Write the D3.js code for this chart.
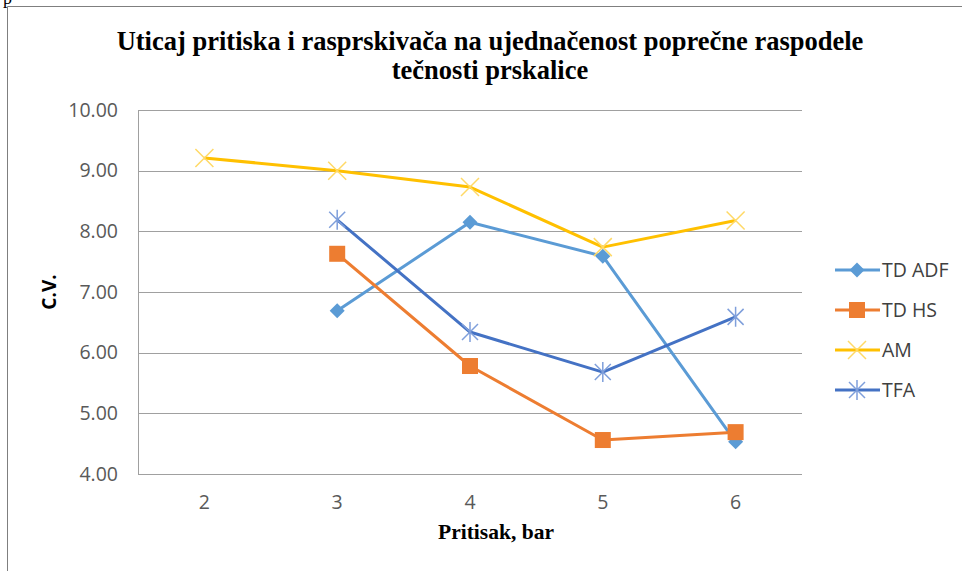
<!DOCTYPE html>
<html>
<head>
<meta charset="utf-8">
<script src="https://cdn.jsdelivr.net/npm/d3@7"></script>
<style>
  body { margin: 0; background: #fff; }
  svg { display: block; }
</style>
</head>
<body>
<svg id="chart"></svg>
<script>
const pressures = ["2", "3", "4", "5", "6"];
const yTicks = [4, 5, 6, 7, 8, 9, 10];

const tdAdf = [null, 6.69, 8.15, 7.59, 4.53];
const tdHs = [null, 7.63, 5.78, 4.56, 4.69];
const am = [9.21, 9.00, 8.73, 7.74, 8.18];
const tfa = [null, 8.19, 6.34, 5.68, 6.59];

const series = [
  {name: "TD ADF", values: tdAdf, color: "#5B9BD5", marker: "diamond"},
  {name: "TD HS", values: tdHs, color: "#ED7D31", marker: "square"},
  {name: "AM", values: am, color: "#FFC000", marker: "cross"},
  {name: "TFA", values: tfa, color: "#4472C4", marker: "star"}
];

const svg_size = {width: 962, height: 571};
const plot_margin = {top: 110, right: 160, bottom: 97, left: 138};
const plot_width = svg_size.width - plot_margin.left - plot_margin.right;
const plot_height = svg_size.height - plot_margin.top - plot_margin.bottom;
const tick_font = 19.5;

const svg = d3.select("#chart")
  .attr("width", svg_size.width)
  .attr("height", svg_size.height);

// page frame and the cut-off line of the document above
svg.append("text")
  .attr("x", 3).attr("y", 4)
  .attr("font-family", "Liberation Serif")
  .attr("font-size", 18)
  .attr("fill", "#000")
  .text("p");
svg.append("path")
  .attr("d", "M7.5,571V6.5H962")
  .attr("fill", "none")
  .attr("stroke", "#7f7f7f")
  .attr("stroke-width", 1);

const plot = svg.append("g")
  .attr("transform", `translate(${plot_margin.left},${plot_margin.top})`);

const x = d3.scalePoint().domain(pressures).range([0, plot_width]).padding(0.5);
const y = d3.scaleLinear().domain([4, 10]).range([plot_height, 0]);

// gridlines
plot.append("g")
  .selectAll("line")
  .data(yTicks)
  .join("line")
  .attr("x1", 0).attr("x2", plot_width)
  .attr("y1", d => Math.round(y(d)) + 0.5)
  .attr("y2", d => Math.round(y(d)) + 0.5)
  .attr("stroke", "#a0a0a0")
  .attr("stroke-width", 1);

plot.append("line")
  .attr("x1", 0.5).attr("x2", 0.5)
  .attr("y1", 0).attr("y2", plot_height)
  .attr("stroke", "#a0a0a0");

// y tick labels
plot.append("g")
  .selectAll("text")
  .data(yTicks)
  .join("text")
  .attr("x", -20)
  .attr("y", d => y(d))
  .attr("dy", "0.35em")
  .attr("text-anchor", "end")
  .attr("font-family", "Open Sans, sans-serif")
  .attr("font-size", tick_font)
  .attr("fill", "#595959")
  .text(d => d.toFixed(2));

// x tick labels
plot.append("g")
  .selectAll("text")
  .data(pressures)
  .join("text")
  .attr("x", d => x(d))
  .attr("y", plot_height + 35)
  .attr("text-anchor", "middle")
  .attr("font-family", "Open Sans, sans-serif")
  .attr("font-size", tick_font)
  .attr("fill", "#595959")
  .text(d => d);

// titles
const title = svg.append("text")
  .attr("text-anchor", "middle")
  .attr("font-family", "Liberation Serif, serif")
  .attr("font-weight", "bold")
  .attr("font-size", 26.5)
  .attr("fill", "#000");
title.append("tspan").attr("x", 490).attr("y", 50)
  .text("Uticaj pritiska i rasprskivača na ujednačenost poprečne raspodele");
title.append("tspan").attr("x", 490).attr("y", 79)
  .text("tečnosti prskalice");

svg.append("text")
  .attr("x", 496)
  .attr("y", 539)
  .attr("text-anchor", "middle")
  .attr("font-family", "Liberation Serif, serif")
  .attr("font-weight", "bold")
  .attr("font-size", 21.5)
  .text("Pritisak, bar");

svg.append("text")
  .attr("transform", `translate(56,${plot_margin.top + plot_height / 2}) rotate(-90)`)
  .attr("text-anchor", "middle")
  .attr("font-family", "Open Sans, sans-serif")
  .attr("font-weight", "bold")
  .attr("font-size", 19)
  .attr("fill", "#000")
  .text("C.V.");

function drawMarker(g, type, color) {
  if (type === "diamond") {
    g.append("path").attr("d", "M0,-7.5L7.5,0L0,7.5L-7.5,0Z").attr("fill", color);
  } else if (type === "square") {
    g.append("rect").attr("x", -8).attr("y", -8).attr("width", 16).attr("height", 16).attr("fill", color);
  } else if (type === "cross") {
    g.append("path").attr("d", "M-9,-9L9,9M-9,9L9,-9")
      .attr("stroke", "#FFD966").attr("stroke-width", 1.5).attr("fill", "none");
  } else if (type === "star") {
    g.append("path").attr("d", "M-8,-8L8,8M-8,8L8,-8M0,-10V10")
      .attr("stroke", "#7F9FDB").attr("stroke-width", 1.5).attr("fill", "none");
  }
}

const line = d3.line()
  .defined(d => d.v !== null)
  .x(d => x(d.p))
  .y(d => y(d.v));

series.forEach(s => {
  const pts = s.values.map((v, i) => ({p: pressures[i], v: v}));
  plot.append("path")
    .datum(pts)
    .attr("d", line)
    .attr("fill", "none")
    .attr("stroke", s.color)
    .attr("stroke-width", 3)
    .attr("stroke-linejoin", "round");
  pts.filter(d => d.v !== null).forEach(d => {
    const g = plot.append("g").attr("transform", `translate(${x(d.p)},${y(d.v)})`);
    drawMarker(g, s.marker, s.color);
  });
});

// legend
const legend = svg.append("g").attr("transform", "translate(835,270)");
series.forEach((s, i) => {
  const row = legend.append("g").attr("transform", `translate(0,${i * 40})`);
  row.append("line")
    .attr("x1", 0).attr("x2", 45)
    .attr("stroke", s.color).attr("stroke-width", 3);
  const g = row.append("g").attr("transform", "translate(22,0)");
  drawMarker(g, s.marker, s.color);
  row.append("text")
    .attr("x", 47)
    .attr("dy", "0.35em")
    .attr("font-family", "Open Sans, sans-serif")
    .attr("font-size", tick_font)
    .attr("fill", "#404040")
    .text(s.name);
});
</script>
</body>
</html>
